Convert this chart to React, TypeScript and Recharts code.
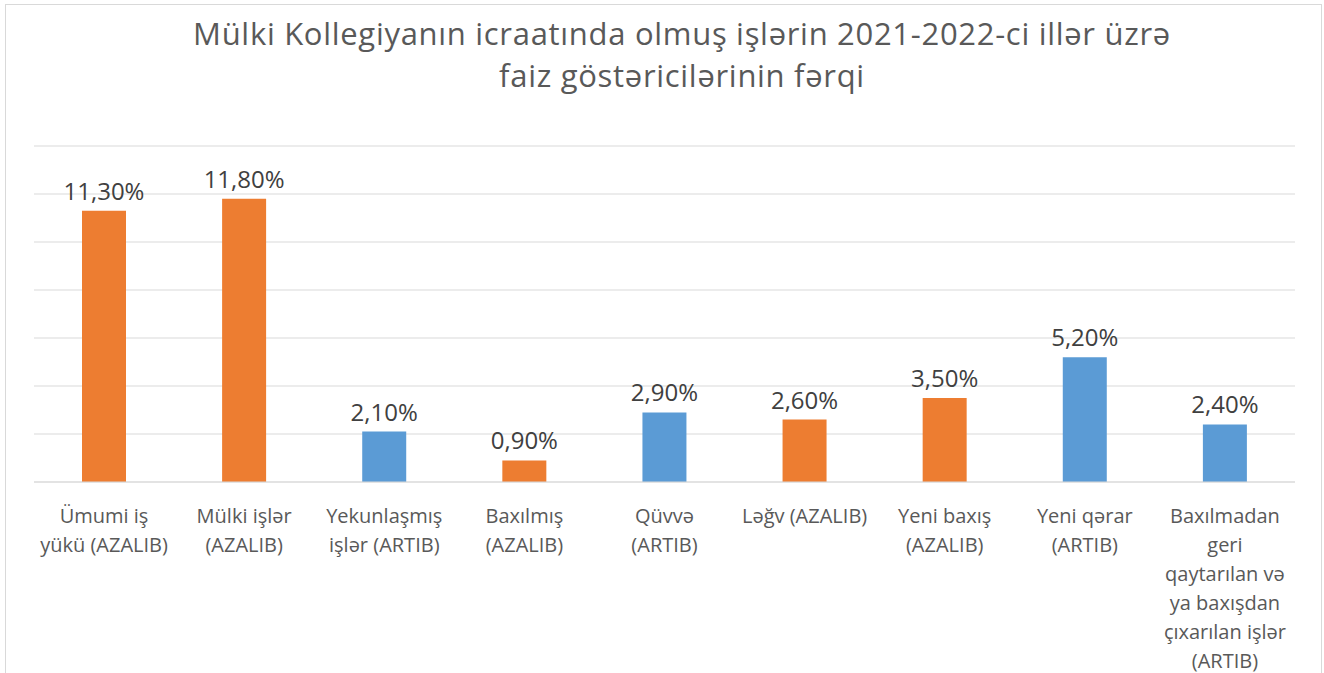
import { BarChart, Bar, XAxis, YAxis, CartesianGrid, Cell, LabelList } from "recharts";

const categories = [
  "Ümumi iş\nyükü (AZALIB)",
  "Mülki işlər\n(AZALIB)",
  "Yekunlaşmış\nişlər (ARTIB)",
  "Baxılmış\n(AZALIB)",
  "Qüvvə\n(ARTIB)",
  "Ləğv (AZALIB)",
  "Yeni baxış\n(AZALIB)",
  "Yeni qərar\n(ARTIB)",
  "Baxılmadan\ngeri\nqaytarılan və\nya baxışdan\nçıxarılan işlər\n(ARTIB)",
];
const values = [11.3, 11.8, 2.1, 0.9, 2.9, 2.6, 3.5, 5.2, 2.4];
const trends = ["AZALIB", "AZALIB", "ARTIB", "AZALIB", "ARTIB", "AZALIB", "AZALIB", "ARTIB", "ARTIB"];
const yTicks = [0, 2, 4, 6, 8, 10, 12, 14];

const trendColors: Record<string, string> = { AZALIB: "#ED7D31", ARTIB: "#5B9BD5" };

const data = categories.map((name, i) => ({ name, value: values[i], trend: trends[i] }));

const FONT = "'Open Sans', sans-serif";

function CategoryTick(props: any) {
  const { x, y, payload } = props;
  const lines = String(payload.value).split("\n");
  return (
    <text x={x} y={y + 33} textAnchor="middle" fill="#595959" fontSize={20} fontFamily={FONT}>
      {lines.map((l, i) => (
        <tspan key={i} x={x} dy={i === 0 ? 0 : 29}>
          {l}
        </tspan>
      ))}
    </text>
  );
}

const fmt = (v: any) => `${Number(v).toFixed(2).replace(".", ",")}%`;

export default function App() {
  return (
    <div
      style={{
        position: "absolute",
        left: 0,
        top: 0,
        width: 1324,
        height: 673,
        overflow: "hidden",
        background: "#fff",
      }}
    >
      <div
        style={{
          position: "absolute",
          left: 5,
          top: 4,
          width: 1315,
          height: 720,
          border: "1px solid #D9D9D9",
        }}
      />
      <div
        style={{
          position: "absolute",
          left: 0,
          top: 12,
          width: 1364,
          textAlign: "center",
          fontFamily: FONT,
          fontSize: 31,
          letterSpacing: 0.7,
          lineHeight: "42px",
          color: "#595959",
        }}
      >
        Mülki Kollegiyanın icraatında olmuş işlərin 2021-2022-ci illər üzrə
        <br />
        faiz göstəricilərinin fərqi
      </div>
      <div style={{ position: "absolute", left: 0, top: 0 }}>
        <BarChart
          width={1324}
          height={673}
          data={data}
          margin={{ top: 146, right: 29, bottom: 0, left: 34 }}
        >
          <CartesianGrid vertical={false} stroke="#D9D9D9" strokeWidth={1.2} />
          <XAxis
            dataKey="name"
            interval={0}
            tickLine={false}
            axisLine={{ stroke: "#D9D9D9", strokeWidth: 1.2 }}
            height={191}
            tick={<CategoryTick />}
          />
          <YAxis hide width={0} domain={[0, 14]} ticks={yTicks} />
          <Bar dataKey="value" barSize={44} isAnimationActive={false}>
            {data.map((d, i) => (
              <Cell key={i} fill={trendColors[d.trend]} />
            ))}
            <LabelList
              dataKey="value"
              position="top"
              offset={11}
              formatter={fmt}
              fill="#404040"
              fontSize={24}
              fontFamily={FONT}
            />
          </Bar>
        </BarChart>
      </div>
    </div>
  );
}
